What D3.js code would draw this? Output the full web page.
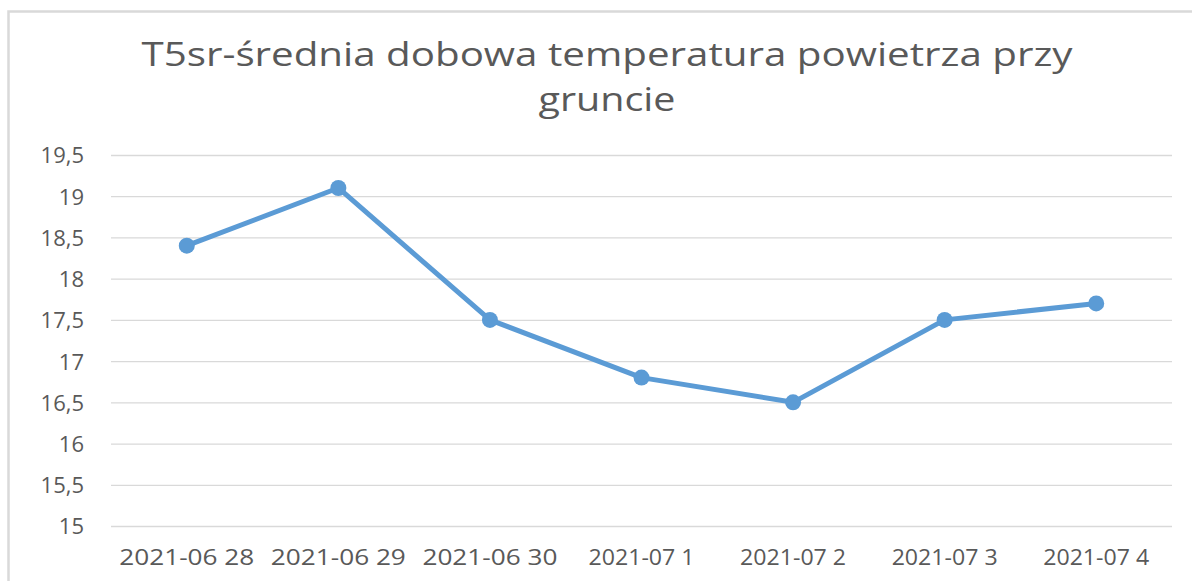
<!DOCTYPE html>
<html>
<head>
<meta charset="utf-8">
<script src="https://cdn.jsdelivr.net/npm/d3@7"></script>
<style>
  body { margin: 0; background: #fff; }
  svg { display: block; }
</style>
</head>
<body>
<script>
const dates = ['2021-06 28', '2021-06 29', '2021-06 30', '2021-07 1', '2021-07 2', '2021-07 3', '2021-07 4'];
const temps = [18.4, 19.1, 17.5, 16.8, 16.5, 17.5, 17.7];
const yTicks = [15, 15.5, 16, 16.5, 17, 17.5, 18, 18.5, 19, 19.5];
const titleLines = ['T5sr-średnia dobowa temperatura powietrza przy', 'gruncie'];

const W = 1192, H = 581;
const margin = { left: 111, right: 20, top: 155, bottom: 55 };
const font = '"Open Sans", "DejaVu Sans", sans-serif';

const svg = d3.select('body').append('svg')
    .attr('width', W)
    .attr('height', H);

// chart frame (only top and left edges are visible)
svg.append('path')
    .attr('d', 'M8.5,' + H + 'V11.5H' + W)
    .attr('fill', 'none')
    .attr('stroke', '#d9d9d9')
    .attr('stroke-width', 2.5);

// TITLE
svg.append('g').selectAll('text')
    .data(titleLines)
    .enter()
    .append('text')
    .attr('x', 607)
    .attr('y', (d, i) => 66 + i * 45)
    .attr('text-anchor', 'middle')
    .attr('font-family', font)
    .attr('font-size', '32px')
    .attr('fill', '#595959')
    .attr('textLength', (d, i) => i === 0 ? 931 : 137)
    .attr('lengthAdjust', 'spacingAndGlyphs')
    .text(d => d);

// SCALES
const x = d3.scaleBand()
    .domain(dates)
    .range([margin.left, W - margin.right]);

const y = d3.scaleLinear()
    .domain([15, 19.5])
    .range([526, 155]);

// GRID
svg.append('g')
    .attr('transform', 'translate(' + margin.left + ',0)')
    .call(d3.axisLeft(y).tickValues(yTicks).tickSize(-(W - margin.right - margin.left)).tickFormat(''))
    .call(g => g.select('.domain').remove())
    .selectAll('line')
    .attr('stroke', '#d9d9d9')
    .attr('stroke-width', 1.3);

// Y AXIS LABELS
svg.append('g')
    .attr('transform', 'translate(84,0)')
    .call(d3.axisLeft(y).tickValues(yTicks).tickSize(0).tickFormat(d => String(d).replace('.', ',')))
    .call(g => g.select('.domain').remove())
    .selectAll('text')
    .attr('x', 0)
    .attr('dy', '0.36em')
    .attr('font-family', font)
    .attr('font-size', '22px')
    .attr('fill', '#595959');

// X AXIS LABELS
svg.append('g')
    .attr('transform', 'translate(0,526)')
    .call(d3.axisBottom(x).tickSize(0))
    .call(g => g.select('.domain').remove())
    .selectAll('text')
    .attr('y', 39)
    .attr('dy', 0)
    .attr('font-family', font)
    .attr('font-size', '22px')
    .attr('fill', '#595959')
    .attr('textLength', d => d.length < 10 ? 106 : 135)
    .attr('lengthAdjust', 'spacingAndGlyphs');

// LINE
const cx = (d, i) => x(dates[i]) + x.bandwidth() / 2;

const line = d3.line()
    .x(cx)
    .y(d => y(d));

svg.append('path')
    .datum(temps)
    .attr('d', line)
    .attr('fill', 'none')
    .attr('stroke', '#5b9bd5')
    .attr('stroke-width', 5)
    .attr('stroke-linejoin', 'round');

// MARKERS
svg.selectAll('circle')
    .data(temps)
    .enter()
    .append('circle')
    .attr('cx', cx)
    .attr('cy', d => y(d))
    .attr('r', 8)
    .attr('fill', '#5b9bd5');
</script>
</body>
</html>
